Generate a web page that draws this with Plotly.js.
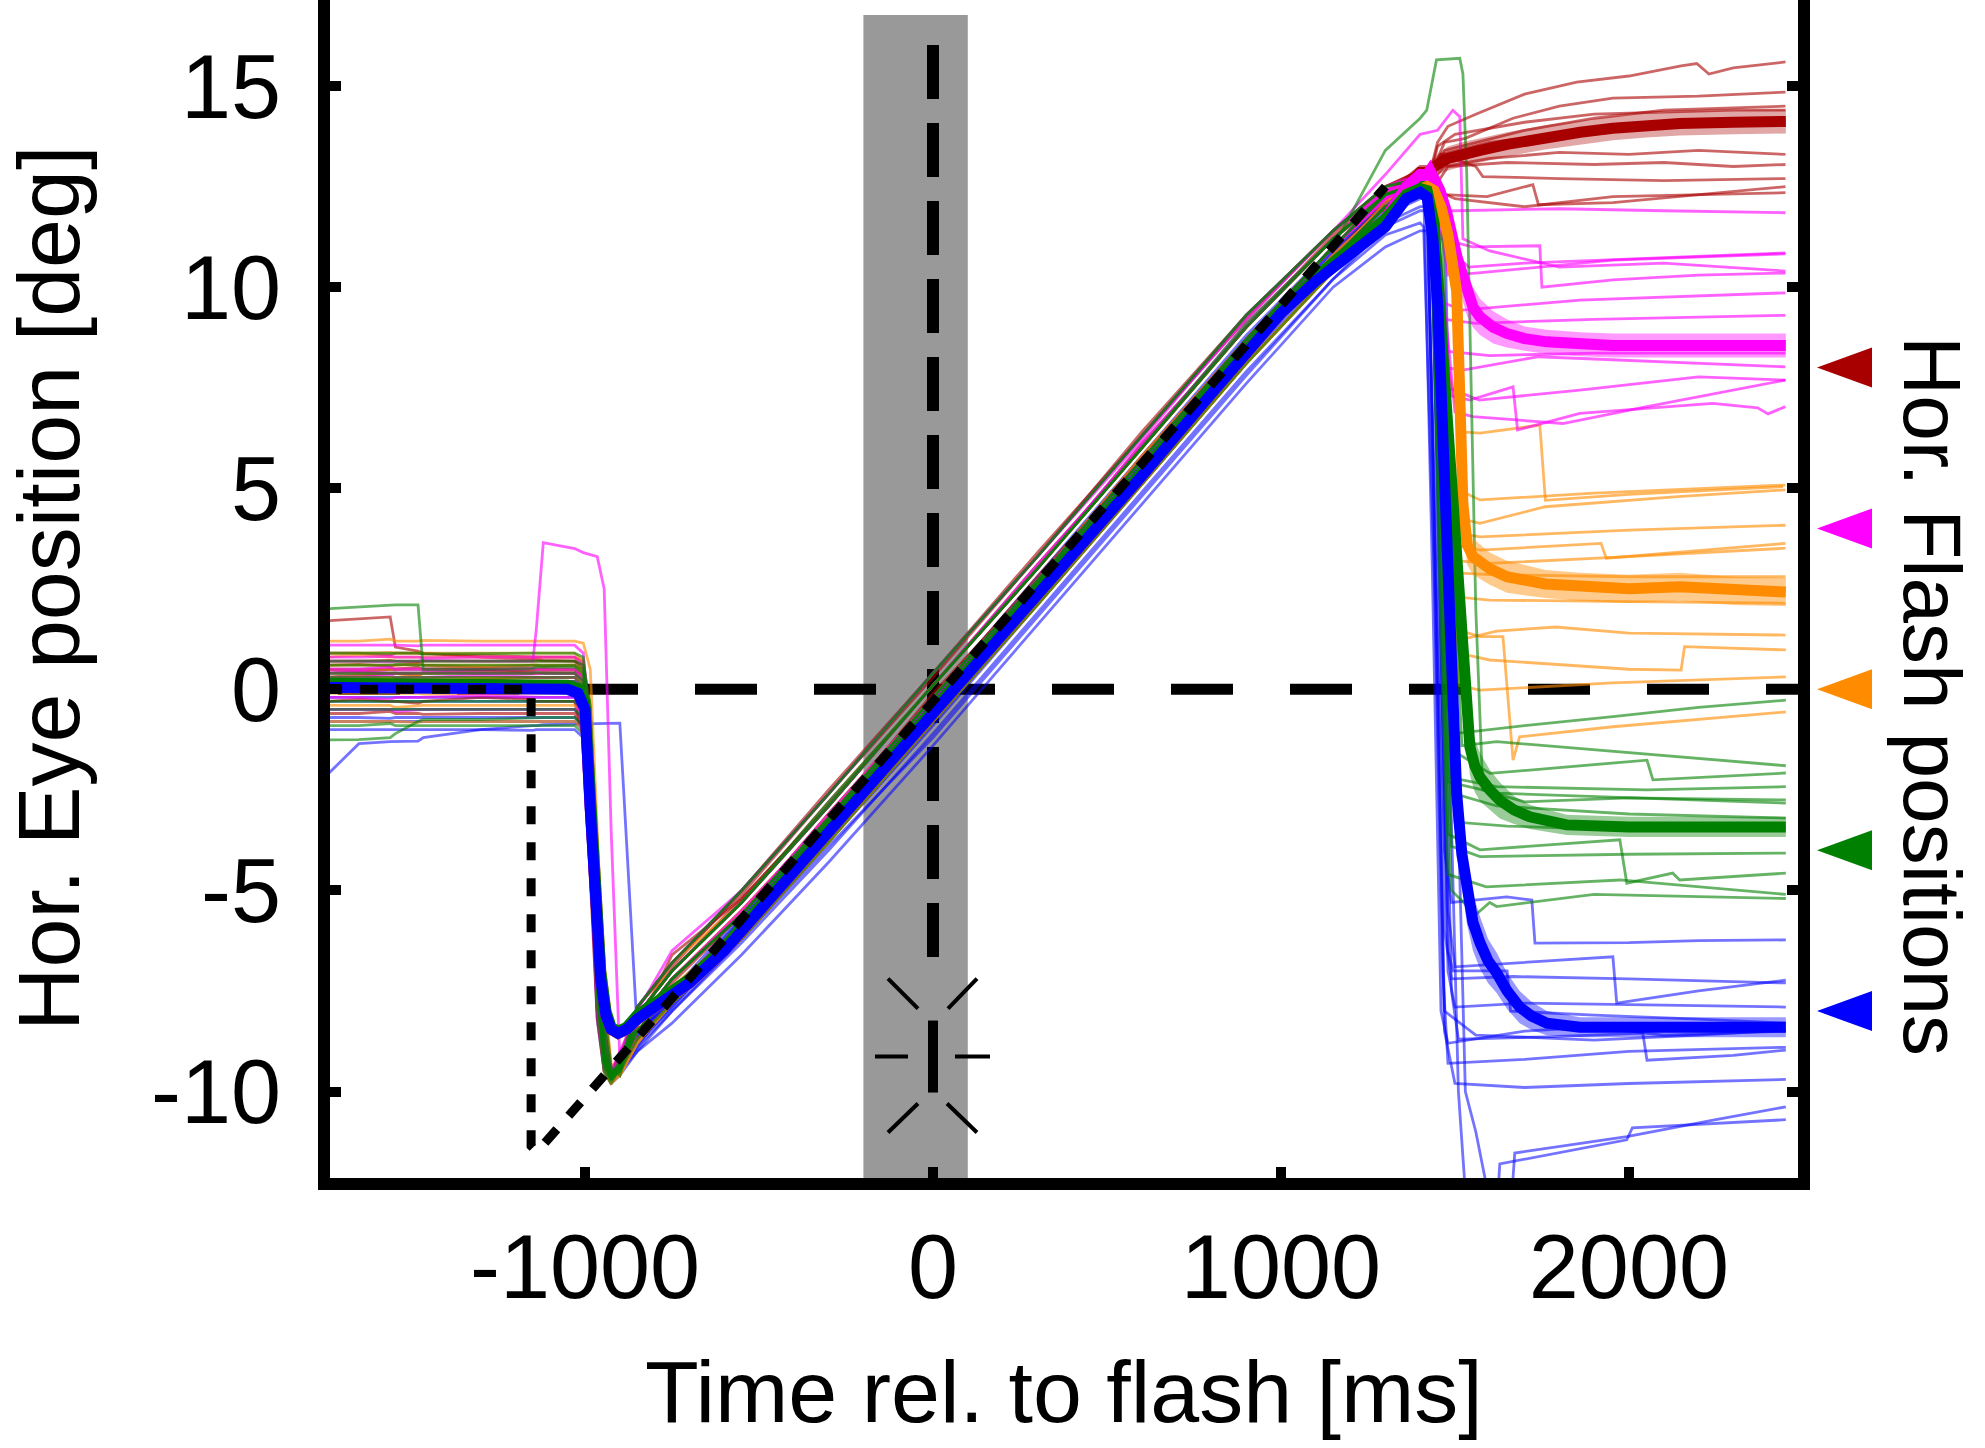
<!DOCTYPE html>
<html>
<head>
<meta charset="utf-8">
<script src="https://cdn.plot.ly/plotly-3.0.1.min.js"></script>
<style>html,body{margin:0;padding:0;background:#fff;}#chart{width:1985px;height:1448px;}</style>
</head>
<body>
<div id="chart"></div>
<script>
// ---------------- DATA ----------------
const xTickVals = [-1000, 0, 1000, 2000];
const xTickText = ['-1000', '0', '1000', '2000'];
const yTickVals = [-10, -5, 0, 5, 10, 15];
const yTickText = ['-10', '-5', '0', '5', '10', '15'];

const flashPositions = [8, 4, 0, -4, -8];
const flashColors = ['#a80000', '#ff00ff', '#ff8c00', '#008000', '#0000ff'];
const flashWindow = [-200, 100];     // grey flash window (ms)
const flashWindowTop = 16.77;
const flashIconAt = [0, -9.13];       // time, position of the flash icon
const fixLineTop = 16.02, fixLineBottom = -6.73;

// target trajectory (step-ramp)
const targetT = [-1750, -1155, -1155, -1138, 1300];
const targetY = [0, 0, -11.35, -11.5, 12.5];

// shared time vertices for the pre-saccadic part of single trials
const PRE_T = [-1750, -1650, -1560, -1545, -1480, -1465, -1300, -1150, -1140, -1120, -1030,
               -1005, -985, -965, -945, -925, -900, -850, -750, -550, -300, 0, 300, 600, 900, 1150, 1300, 1400];

// ---- single trials: red (flash at +8) ----
const redPre = [
 [0.6,0.62,0.58,0.6,0.63,0.6,0.55,0.6,0.6,0.58,0.6, 0.4,-2.5,-6.6,-9.0,-9.5,-9.1, -7.9,-6.9,-5.0,-2.5,0.4,3.4,6.3,9.2,11.4,12.5,12.9],
 [1.7,1.75,1.8,1.05,0.95,0.9,0.8,0.75,0.75,0.72,0.7, 0.5,-1.5,-5.5,-8.6,-9.5,-9.3, -8.3,-7.2,-5.5,-3.2,-0.1,2.7,5.8,8.7,11.0,12.3,13.0],
 [-0.3,-0.25,-0.3,-0.3,-0.35,-0.3,-0.2,-0.25,-0.3,-0.3,-0.3, -1.2,-4.8,-8.2,-9.5,-9.6,-9.2, -8.5,-7.5,-5.9,-3.4,-0.5,2.5,5.4,8.4,10.8,12.1,12.8],
 [0.3,0.35,0.4,0.4,0.35,0.4,0.45,0.4,0.4,0.42,0.4, 0.2,-3.0,-7.0,-9.2,-9.7,-9.3, -8.1,-7.0,-5.2,-2.9,0.1,3.0,6.1,9.0,11.2,12.3,12.7],
 [0.9,0.9,0.85,0.9,0.9,0.88,0.85,0.82,0.8,0.8,0.8, 0.7,-0.5,-4.2,-7.8,-9.4,-9.6, -8.3,-7.3,-5.6,-3.1,-0.2,2.8,5.7,8.7,11.0,12.2,12.7],
 [0.1,0.1,0.15,0.1,0.05,0.1,0.1,0.15,0.1,0.1,0.1, -0.3,-3.8,-7.6,-9.3,-9.5,-9.1, -8.5,-7.5,-5.9,-3.5,-0.4,2.4,5.4,8.5,10.7,12.0,12.6],
 [0.5,0.45,0.5,0.5,0.55,0.5,0.5,0.45,0.5,0.5,0.48, 0.3,-2.2,-6.2,-8.9,-9.6,-9.4, -8.4,-6.6,-5.2,-2.9,0.1,3.0,6.0,9.0,11.2,12.2,12.5],
 [-0.6,-0.6,-0.55,-0.6,-0.6,-0.62,-0.6,-0.6,-0.6,-0.6,-0.6, -1.0,-4.0,-7.9,-9.4,-9.6,-9.2, -8.7,-7.8,-6.2,-3.8,-0.8,2.1,5.1,8.1,10.4,11.8,12.5],
 [0.2,0.25,0.2,0.2,0.2,0.2,0.25,0.3,0.3,0.3,0.3, 0.1,-2.8,-6.8,-9.1,-9.5,-9.2, -7.9,-6.8,-5.1,-2.6,0.3,3.3,6.4,9.3,11.4,12.5,12.9],
 [0.7,0.7,0.72,0.7,0.68,0.7,0.7,0.7,0.7,0.7,0.7, 0.6,-1.0,-5.0,-8.4,-9.5,-9.4, -8.1,-7.0,-5.3,-2.8,0.1,3.1,6.0,9.0,11.3,12.4,12.8]
];
const redPost = [
 [[1430,12.9],[1450,13.6],[1480,14.0],[1560,14.3],[1700,14.8],[1850,15.1],[2000,15.25],[2150,15.5],[2195,15.56],[2230,15.3],[2300,15.45],[2450,15.6]],
 [[1440,13.0],[1470,13.6],[1530,13.7],[1667,14.2],[1800,14.5],[1954,14.7],[2200,14.75],[2450,14.85]],
 [[1430,12.8],[1450,13.5],[1500,13.8],[1700,14.1],[1900,14.3],[2100,14.35],[2300,14.4],[2450,14.4]],
 [[1430,12.7],[1460,13.3],[1600,13.6],[1800,13.8],[2000,14.0],[2200,14.1],[2450,14.15]],
 [[1440,12.7],[1470,13.0],[1600,13.2],[1800,13.35],[2000,13.3],[2200,13.4],[2450,13.3]],
 [[1450,12.6],[1480,13.0],[1650,13.1],[1900,13.05],[2100,13.1],[2300,13.0],[2450,13.05]],
 [[1430,12.5],[1470,12.3],[1592,12.25],[1724,12.55],[1740,12.05],[1954,12.1],[2200,12.3],[2450,12.5]],
 [[1450,12.4],[1500,12.2],[1700,12.0],[1954,12.25],[2200,12.3],[2450,12.35]],
 [[1430,12.9],[1460,13.3],[1560,13.0],[1580,12.75],[1800,12.7],[2100,12.65],[2450,12.7]],
 [[1440,12.8],[1470,13.4],[1700,13.9],[1900,14.2],[2100,14.4],[2450,14.5]]
];

// ---- single trials: magenta (flash at +4) ----
const magPre = [
 [0.7,0.7,0.68,0.7,0.7,0.72,0.7,0.7,1.5,3.65,3.5, 3.4,3.35,3.3,2.5,-3.5,-9.2, -8.1,-7.0,-5.3,-2.9,0.1,3.0,6.0,9.1,11.2,12.4,12.8],
 [0.3,0.3,0.35,0.3,0.3,0.3,0.35,0.3,0.3,0.3,0.3, 0.0,-3.2,-7.2,-9.3,-9.6,-9.2, -7.9,-6.8,-5.0,-2.6,0.4,3.3,6.3,9.3,11.4,12.8,13.8],
 [0.0,0.05,0.0,0.0,-0.05,0.0,0.0,0.05,0.05,0.0,0.0, -0.5,-3.5,-7.5,-9.4,-9.7,-9.3, -8.0,-6.5,-5.0,-2.6,0.4,3.3,6.2,9.3,11.4,12.5,12.8],
 [0.4,0.45,0.4,0.4,0.4,0.42,0.4,0.4,0.4,0.4,0.4, 0.2,-2.0,-6.0,-8.8,-9.5,-9.4, -8.3,-7.2,-5.6,-3.2,-0.2,2.7,5.7,8.6,11.0,12.2,12.7],
 [-0.2,-0.2,-0.25,-0.2,-0.2,-0.2,-0.15,-0.2,-0.2,-0.2,-0.2, -0.8,-4.2,-8.0,-9.4,-9.5,-9.0, -8.1,-7.0,-5.3,-2.9,0.1,3.1,6.0,9.0,11.2,12.4,12.7],
 [0.8,0.8,0.82,0.8,0.8,0.78,0.8,0.8,0.8,0.8,0.8, 0.6,-1.8,-5.8,-8.7,-9.5,-9.3, -8.3,-7.2,-5.5,-3.2,-0.2,2.7,5.7,8.7,11.0,12.3,12.7],
 [0.1,0.1,0.1,0.1,0.12,0.1,0.1,0.1,0.1,0.1,0.1, -0.2,-2.6,-6.6,-9.0,-9.6,-9.3, -7.9,-6.8,-5.0,-2.6,0.4,3.3,6.3,9.2,11.4,12.4,12.6],
 [-0.5,-0.5,-0.5,-0.55,-0.5,-0.5,-0.5,-0.5,-0.5,-0.5,-0.5, -0.5,-1.5,-5.2,-8.5,-9.6,-9.5, -8.5,-7.5,-5.9,-3.5,-0.5,2.4,5.4,8.4,10.7,12.0,12.5],
 [0.5,0.5,0.55,0.5,0.5,0.5,0.5,0.52,0.5,0.5,0.5, 0.3,-2.8,-6.9,-9.2,-9.6,-9.2, -8.3,-7.2,-5.6,-3.1,-0.2,2.7,5.7,8.7,11.0,12.2,12.6],
 [0.2,0.2,0.2,0.25,0.2,0.2,0.2,0.2,0.2,0.2,0.2, -0.1,-3.0,-7.0,-9.2,-9.6,-9.2, -8.1,-7.0,-5.3,-2.9,0.1,3.0,6.1,9.0,11.2,12.3,12.6],
 [1.1,1.1,1.1,1.1,1.08,1.1,1.1,1.1,1.1,1.1,1.1, 0.9,-1.2,-5.2,-8.5,-9.5,-9.4, -8.5,-7.5,-5.8,-3.5,-0.5,2.4,5.4,8.4,10.7,12.0,12.5],
 [0.0,0.0,0.0,0.0,0.0,0.0,0.0,0.0,0.0,0.0,0.0, -0.4,-3.4,-7.4,-9.4,-9.6,-9.2, -8.3,-7.2,-5.6,-3.2,-0.3,2.7,5.7,8.7,11.0,12.2,12.6]
];
const magPost = [
 [[1440,12.8],[1470,12.0],[1500,10.8],[1540,10.5],[1700,10.6],[2000,10.7],[2300,10.8],[2450,10.85]],
 [[1450,13.9],[1494,14.4],[1514,14.24],[1523,11.2],[1600,10.9],[1800,10.5],[2100,10.6],[2450,10.4]],
 [[1430,12.6],[1460,11.9],[1500,11.9],[1800,11.95],[2100,11.9],[2450,11.85]],
 [[1430,12.6],[1460,11.2],[1550,11.0],[1744,11.03],[1750,10.0],[1954,10.18],[2200,10.3],[2450,10.35]],
 [[1440,12.5],[1480,10.3],[1560,10.35],[1954,10.67],[2450,10.83]],
 [[1430,12.5],[1470,9.6],[1523,9.43],[1859,9.68],[2241,9.8],[2450,9.86]],
 [[1430,12.4],[1470,9.2],[1560,9.1],[1900,9.2],[2450,9.3]],
 [[1440,12.3],[1480,8.4],[1600,8.3],[1900,8.36],[2450,8.36]],
 [[1430,12.3],[1470,8.0],[1523,7.94],[1740,8.27],[2450,8.02]],
 [[1440,12.4],[1490,7.3],[1543,7.19],[1667,7.52],[1680,6.45],[1859,6.86],[2241,7.11],[2370,7.0],[2400,6.85],[2450,7.03]],
 [[1440,12.3],[1500,6.9],[1552,6.78],[1810,6.61],[2052,7.03],[2450,7.69]],
 [[1440,12.4],[1480,7.5],[1570,7.19],[1859,7.44],[2200,7.77],[2450,7.69]]
];

// ---- single trials: orange (flash at 0) ----
const orgPre = [
 [1.2,1.2,1.25,1.2,1.2,1.22,1.2,1.2,1.2,1.2,1.2, 1.15,0.5,-3.5,-7.5,-9.3,-9.6, -8.5,-7.4,-5.9,-3.5,-0.5,2.5,5.4,8.4,10.7,12.1,12.6],
 [0.8,0.85,0.8,0.8,0.8,0.8,0.8,0.8,0.8,0.8,0.8, 0.6,-2.0,-6.0,-8.9,-9.6,-9.4, -8.3,-7.2,-5.5,-3.2,-0.2,2.7,5.8,8.7,11.0,12.2,12.5],
 [0.3,0.3,0.3,0.3,0.35,0.3,0.3,0.3,0.3,0.3,0.3, 0.1,-2.5,-6.5,-9.0,-9.7,-9.5, -8.7,-7.8,-6.2,-3.8,-0.8,2.1,5.1,8.1,10.4,11.8,12.5],
 [-0.4,-0.4,-0.4,-0.45,-0.4,-0.4,-0.4,-0.4,-0.4,-0.4,-0.4, -0.6,-3.2,-7.2,-9.3,-9.7,-9.4, -8.5,-7.5,-5.9,-3.5,-0.4,2.4,5.4,8.5,10.8,12.0,12.4],
 [0.5,0.5,0.5,0.5,0.5,0.5,0.55,0.5,0.5,0.5,0.5, 0.4,-1.5,-5.6,-8.6,-9.6,-9.6, -8.8,-7.8,-6.1,-3.8,-0.8,2.2,5.1,8.1,10.4,11.8,12.4],
 [0.0,0.0,-0.05,0.0,0.0,0.0,0.0,0.0,0.0,0.0,0.0, -0.3,-3.6,-7.6,-9.4,-9.8,-9.5, -8.3,-7.2,-5.6,-3.1,-0.2,2.7,5.7,8.7,11.0,12.2,12.5],
 [0.6,0.6,0.6,0.6,0.62,0.6,0.6,0.6,0.6,0.6,0.6, 0.5,-2.2,-6.2,-8.9,-9.6,-9.5, -8.2,-6.8,-5.3,-2.9,0.1,3.0,6.0,9.0,11.2,12.3,12.6],
 [-0.1,-0.1,-0.1,-0.1,-0.1,-0.12,-0.1,-0.1,-0.1,-0.1,-0.1, -0.5,-3.8,-7.8,-9.5,-9.8,-9.4, -8.5,-7.5,-5.9,-3.5,-0.5,2.4,5.4,8.4,10.7,12.0,12.4],
 [0.3,0.3,0.3,0.3,0.3,0.3,0.3,0.3,0.3,0.3,0.3, 0.2,-1.8,-5.8,-8.8,-9.6,-9.5, -8.3,-7.2,-5.6,-3.2,-0.2,2.7,5.7,8.7,11.0,12.2,12.5],
 [0.9,0.9,0.92,0.9,0.9,0.9,0.9,0.9,0.9,0.9,0.9, 0.7,-1.3,-5.3,-8.6,-9.5,-9.4, -8.1,-7.0,-5.3,-2.9,0.1,3.0,6.0,9.0,11.2,12.4,12.6],
 [-0.8,-0.8,-0.8,-0.8,-0.82,-0.8,-0.8,-0.8,-0.8,-0.8,-0.8, -1.0,-3.0,-7.0,-9.3,-9.8,-9.6, -8.8,-7.8,-6.2,-3.8,-0.8,2.1,5.1,8.1,10.4,11.8,12.4],
 [0.4,0.4,0.4,0.4,0.4,0.4,0.4,0.4,0.4,0.4,0.4, 0.3,-2.6,-6.6,-9.0,-9.6,-9.4, -8.3,-7.2,-5.6,-3.2,-0.2,2.7,5.7,8.7,11.0,12.2,12.5]
];
const orgPost = [
 [[1440,12.6],[1480,8.0],[1520,6.4],[1572,6.37],[1744,6.57],[1760,4.7],[2000,4.85],[2443,5.04]],
 [[1440,12.5],[1500,5.0],[1572,4.71],[1900,4.88],[2450,5.08]],
 [[1430,12.5],[1490,4.3],[1572,4.13],[1760,4.54],[2140,4.79],[2450,4.96]],
 [[1440,12.4],[1500,3.9],[1572,3.79],[2000,3.96],[2450,4.08]],
 [[1430,12.4],[1490,3.6],[1572,3.46],[1920,3.63],[1935,3.26],[2450,3.63]],
 [[1440,12.4],[1500,3.2],[1600,3.13],[2000,3.3],[2450,3.51]],
 [[1430,12.5],[1490,2.9],[1600,2.85],[2000,2.8],[2450,2.8]],
 [[1440,12.4],[1500,2.3],[1600,2.22],[2000,2.18],[2450,2.14]],
 [[1440,12.4],[1500,1.5],[1572,1.31],[1638,1.31],[1667,-1.76],[1686,-1.18],[1954,-0.93],[2451,-0.56]],
 [[1440,12.4],[1500,1.2],[1620,1.45],[1790,1.55],[2000,1.4],[2450,1.35]],
 [[1440,12.3],[1510,0.9],[1600,0.73],[2000,0.5],[2150,0.48],[2160,1.06],[2451,0.98]],
 [[1440,12.3],[1510,0.1],[1572,-0.02],[1954,0.16],[2451,0.31]]
];

// ---- single trials: green (flash at -4) ----
const grnPre = [
 [2.0,2.05,2.1,2.1,2.1,0.5,0.5,0.52,0.55,0.55,0.55, 0.4,-2.0,-6.0,-8.9,-9.6,-9.3, -8.1,-7.0,-5.3,-2.9,0.1,3.0,6.0,9.0,11.2,12.3,12.6],
 [0.3,0.3,0.3,0.3,0.3,0.3,0.3,0.3,0.3,0.3,0.3, 0.1,-2.9,-6.9,-9.1,-9.6,-9.2, -8.3,-7.2,-5.6,-3.2,-0.2,2.7,5.7,8.7,11.0,13.4,14.2],
 [-1.26,-1.25,-1.2,-1.1,-0.8,-0.75,-0.75,-0.7,-0.7,-0.7,-0.7, -0.9,-3.5,-7.5,-9.3,-9.7,-9.4, -8.5,-7.5,-5.9,-3.5,-0.5,2.4,5.4,8.4,10.7,12.0,12.5],
 [0.6,0.6,0.6,0.62,0.6,0.6,0.6,0.6,0.6,0.6,0.6, 0.5,-1.6,-5.6,-8.7,-9.6,-9.5, -8.1,-7.0,-5.3,-2.8,0.1,3.0,6.0,9.1,11.2,12.3,12.6],
 [0.1,0.1,0.1,0.1,0.1,0.1,0.1,0.12,0.1,0.1,0.1, -0.1,-3.1,-7.1,-9.2,-9.7,-9.3, -8.3,-7.2,-5.6,-3.2,-0.2,2.7,5.7,8.7,11.0,12.3,12.6],
 [-0.9,-0.9,-0.85,-0.9,-0.9,-0.9,-0.9,-0.9,-0.9,-0.9,-0.9, -1.1,-3.3,-7.3,-9.3,-9.7,-9.5, -8.7,-7.8,-6.2,-3.8,-0.8,2.1,5.1,8.1,10.4,11.8,12.4],
 [0.9,0.9,0.9,0.9,0.9,0.88,0.9,0.9,0.9,0.9,0.9, 0.8,-1.0,-5.0,-8.4,-9.5,-9.4, -7.9,-6.8,-5.0,-2.6,0.4,3.3,6.3,9.3,11.4,12.5,12.7],
 [0.4,0.4,0.4,0.4,0.4,0.4,0.4,0.4,0.42,0.4,0.4, 0.2,-2.4,-6.4,-9.0,-9.6,-9.4, -8.1,-7.0,-5.3,-2.9,0.1,3.0,6.0,9.0,11.2,12.3,12.6],
 [-0.3,-0.3,-0.3,-0.3,-0.3,-0.3,-0.3,-0.3,-0.3,-0.3,-0.3, -0.5,-3.6,-7.6,-9.4,-9.7,-9.3, -8.5,-7.5,-5.9,-3.5,-0.5,2.4,5.4,8.4,10.7,12.0,12.5],
 [0.7,0.7,0.7,0.7,0.7,0.7,0.7,0.7,0.7,0.7,0.7, 0.6,-0.4,-4.4,-8.0,-9.4,-9.6, -8.3,-7.2,-5.6,-3.2,-0.2,2.7,5.7,8.7,11.0,12.3,12.6],
 [0.2,0.2,0.2,0.2,0.2,0.2,0.2,0.2,0.2,0.2,0.2, 0.0,-2.7,-6.7,-9.1,-9.6,-9.3, -7.9,-6.8,-5.0,-2.6,0.4,3.3,6.3,9.3,11.4,12.5,12.7],
 [-0.5,-0.5,-0.5,-0.5,-0.5,-0.5,-0.5,-0.5,-0.5,-0.5,-0.5, -0.7,-3.9,-7.9,-9.5,-9.8,-9.4, -8.5,-7.5,-5.9,-3.5,-0.5,2.4,5.4,8.4,10.7,12.0,12.5]
];
const grnPost = [
 [[1430,12.6],[1455,6],[1480,-0.5],[1500,-1.1],[1700,-0.9],[1954,-0.68],[2200,-0.45],[2451,-0.27]],
 [[1419,14.4],[1447,15.65],[1514,15.69],[1523,15.3],[1534,12.8],[1560,2],[1580,-2.5],[1700,-2.8],[2000,-2.7],[2451,-2.75]],
 [[1440,12.5],[1465,5],[1490,-1.5],[1601,-2.09],[2052,-1.76],[2069,-2.25],[2451,-2.08]],
 [[1440,12.6],[1465,5],[1490,-2.2],[1620,-2.42],[2052,-2.5],[2451,-2.42]],
 [[1430,12.6],[1455,5],[1480,-2.3],[1620,-2.58],[2000,-2.7],[2451,-2.83]],
 [[1450,12.4],[1475,5],[1500,-2.6],[1620,-2.9],[2000,-3.1],[2451,-3.2]],
 [[1430,12.7],[1455,4],[1480,-3.6],[1572,-3.99],[1974,-3.74],[1994,-4.82],[2126,-4.57],[2146,-4.74],[2451,-4.57]],
 [[1440,12.6],[1465,4],[1490,-3.9],[1572,-4.16],[2000,-4.1],[2451,-4.07]],
 [[1430,12.5],[1455,3],[1480,-4.6],[1590,-4.91],[1974,-4.74],[2451,-5.1]],
 [[1440,12.6],[1465,3],[1490,-5.0],[1560,-5.6],[1600,-5.3],[1620,-5.4],[1900,-5.1],[2451,-5.2]],
 [[1450,12.7],[1475,3],[1500,-3.3],[1650,-3.4],[2000,-3.5],[2451,-3.45]],
 [[1460,12.5],[1490,4],[1520,-1.4],[1620,-1.3],[1900,-1.5],[2451,-1.9]]
];

// ---- single trials: blue (flash at -8) ----
const bluPre = [
 [-2.2,-1.35,-1.3,-1.3,-1.29,-1.2,-1.0,-0.9,-0.9,-0.88,-0.86, -0.85,-0.85,-0.84,-0.84,-0.84,-0.84,-8.5,-7.8,-6.2,-3.9,-1.2,1.8,4.8,7.8,10.2,11.3,11.6],
 [-0.7,-0.7,-0.72,-0.7,-0.7,-0.7,-0.7,-0.7,-0.7,-0.7,-0.7, -0.9,-4.0,-8.0,-9.4,-9.8,-9.5,-9.0,-8.3,-6.6,-4.3,-1.4,1.6,4.6,7.6,10.0,11.0,11.4],
 [-1.0,-1.0,-1.0,-1.0,-1.0,-1.0,-1.0,-1.02,-1.0,-1.0,-1.0, -1.2,-3.6,-7.6,-9.4,-9.8,-9.6,-9.0,-8.0,-6.2,-3.8,-0.9,2.1,5.1,8.1,10.4,11.6,12.0],
 [0.2,0.2,0.2,0.2,0.2,0.2,0.2,0.2,0.2,0.2,0.2, 0.0,-3.0,-7.0,-9.2,-9.7,-9.3,-8.6,-7.6,-5.7,-3.2,-0.3,2.7,5.7,8.7,11.0,12.2,12.5],
 [-0.2,-0.2,-0.2,-0.2,-0.2,-0.2,-0.2,-0.2,-0.2,-0.2,-0.2, -0.5,-3.4,-7.4,-9.3,-9.7,-9.4,-8.7,-7.8,-5.9,-3.4,-0.5,2.5,5.5,8.5,10.8,12.0,12.3],
 [0.5,0.5,0.5,0.5,0.5,0.5,0.5,0.5,0.5,0.5,0.5, 0.3,-2.4,-6.4,-9.0,-9.6,-9.4,-8.8,-7.9,-6.1,-3.7,-0.8,2.2,5.2,8.2,10.5,11.8,12.2],
 [-0.5,-0.5,-0.5,-0.5,-0.5,-0.5,-0.5,-0.5,-0.5,-0.5,-0.5, -0.8,-3.8,-7.8,-9.4,-9.8,-9.5,-8.9,-7.7,-5.8,-3.3,-0.4,2.6,5.6,8.6,10.9,12.1,12.4],
 [0.0,0.0,0.0,0.0,0.0,0.0,0.0,0.0,0.0,0.0,0.0, -0.2,-2.8,-6.8,-9.1,-9.6,-9.3,-8.7,-7.7,-5.8,-3.3,-0.4,2.6,5.6,8.6,10.9,12.1,12.4],
 [-0.8,-0.8,-0.8,-0.8,-0.8,-0.8,-0.8,-0.8,-0.8,-0.8,-0.8, -1.0,-4.3,-8.2,-9.5,-9.8,-9.4,-8.9,-8.0,-6.3,-4.0,-1.1,1.9,4.9,7.9,10.2,11.5,11.9],
 [0.4,0.4,0.4,0.4,0.4,0.4,0.4,0.4,0.4,0.4,0.4, 0.2,-2.6,-6.6,-9.0,-9.6,-9.4,-8.6,-7.5,-5.6,-3.1,-0.2,2.8,5.8,8.8,11.0,12.3,12.6],
 [-0.3,-0.3,-0.3,-0.3,-0.3,-0.3,-0.3,-0.3,-0.3,-0.3,-0.3, -0.6,-3.3,-7.3,-9.3,-9.7,-9.4,-8.8,-7.9,-6.0,-3.6,-0.7,2.3,5.3,8.3,10.6,11.9,12.3],
 [0.1,0.1,0.1,0.1,0.1,0.1,0.1,0.1,0.1,0.1,0.1, -0.1,-3.1,-7.1,-9.2,-9.7,-9.4,-8.7,-7.6,-5.7,-3.2,-0.3,2.7,5.7,8.7,11.0,12.2,12.5]
];
const bluPost = [
 [[1410,11.5],[1440,3],[1465,-7],[1480,-9.3],[1700,-9.2],[2000,-9.0],[2451,-8.9]],
 [[1420,11.4],[1445,4],[1470,-4],[1490,-5.3],[1649,-5.16],[1721,-5.24],[1730,-6.31],[2000,-6.3],[2200,-6.25],[2451,-6.23]],
 [[1430,12.0],[1455,4],[1480,-5.5],[1500,-6.9],[1667,-6.81],[1954,-6.65],[1965,-7.8],[2200,-7.5],[2451,-7.23]],
 [[1420,12.5],[1445,3],[1470,-6],[1490,-7.2],[1667,-7.14],[2000,-7.2],[2451,-7.3]],
 [[1430,12.3],[1455,3],[1480,-7],[1500,-7.9],[1700,-7.8],[2100,-7.85],[2451,-7.9]],
 [[1440,12.2],[1465,3],[1490,-7.5],[1510,-8.7],[1764,-8.64],[2040,-8.55],[2052,-9.22],[2300,-9.1],[2451,-8.97]],
 [[1420,12.4],[1445,2],[1470,-8],[1560,-8.6],[1900,-8.72],[2200,-8.6],[2451,-8.47]],
 [[1450,12.4],[1480,0],[1510,-10],[1534,-13],[1660,-13],[1672,-11.53],[1994,-11.12],[2250,-10.7],[2451,-10.38]],
 [[1470,11.9],[1500,0],[1530,-10],[1560,-11],[1606,-13],[1620,-13],[1629,-11.8],[1994,-11.2],[2010,-10.9],[2451,-10.7]],
 [[1420,12.6],[1445,2],[1470,-8.5],[1500,-9.8],[1700,-9.9],[2000,-9.8],[2200,-9.75],[2451,-9.7]],
 [[1430,12.3],[1455,3],[1480,-6.5],[1495,-7.0],[1650,-7.0],[1660,-8.0],[1900,-8.1],[2200,-8.2],[2451,-8.3]],
 [[1410,12.5],[1435,3],[1460,-8],[1480,-8.8],[1700,-8.5],[1900,-8.4],[2100,-8.6],[2451,-8.5]]
];

// ---- condition means ----
const MEAN_PRE_T = [-1750, -1500, -1250, -1050, -1020, -1000, -985, -970, -955, -940, -925, -905, -880, -850, -800,
                    -700, -600, -400, -200, 0, 200, 400, 600, 800, 1000, 1100, 1200, 1300, 1360, 1400];
const redMeanPre = [0.08,0.07,0.05,0.03,-0.05,-0.45,-2.95,-5.25,-7.15,-8.1,-8.45,-8.55,-8.45,-8.2,-7.9,-7.3,-6.5,-4.55,-2.6,-0.65,1.3,3.3,5.3,7.35,9.35,10.2,10.95,11.7,12.5,12.85];
const magMeanPre = [0.07,0.07,0.05,0.03,-0.05,-0.45,-2.9,-5.2,-7.1,-8.1,-8.45,-8.55,-8.45,-8.2,-7.9,-7.3,-6.5,-4.55,-2.6,-0.65,1.3,3.3,5.3,7.35,9.35,10.2,10.95,11.7,12.5,12.8];
const orgMeanPre = [0.1,0.1,0.08,0.05,0.0,-0.3,-2.6,-5.0,-7.0,-8.0,-8.45,-8.55,-8.45,-8.2,-7.9,-7.3,-6.5,-4.55,-2.6,-0.65,1.3,3.3,5.3,7.35,9.35,10.15,10.9,11.6,12.3,12.45];
const grnMeanPre = [0.15,0.15,0.12,0.1,0.02,-0.3,-2.6,-5.0,-7.0,-8.0,-8.4,-8.5,-8.4,-8.1,-7.8,-7.2,-6.4,-4.45,-2.5,-0.55,1.4,3.4,5.4,7.45,9.4,10.25,11.0,11.7,12.3,12.45];
const bluMeanPre = [0.05,0.05,0.02,0.0,-0.1,-0.5,-3.0,-5.3,-7.2,-8.1,-8.45,-8.55,-8.45,-8.2,-7.9,-7.3,-6.5,-4.55,-2.6,-0.65,1.3,3.3,5.3,7.35,9.35,10.15,10.85,11.5,12.2,12.36];

const redMeanPost = [[1420,12.85],[1428,12.93],[1450,13.05],[1480,13.2],[1520,13.3],[1572,13.4],[1650,13.55],[1764,13.73],[1860,13.85],[1954,13.95],[2050,14.02],[2146,14.07],[2300,14.1],[2451,14.12]];
const magMeanPost = [[1420,12.8],[1428,12.9],[1457,12.4],[1477,11.84],[1506,10.74],[1534,9.85],[1552,9.5],[1572,9.26],[1610,9.0],[1649,8.85],[1700,8.72],[1764,8.64],[1860,8.58],[1954,8.55],[2200,8.55],[2451,8.55]];
const orgMeanPost = [[1420,12.5],[1440,12.4],[1460,12.0],[1480,11.3],[1495,10.6],[1505,9.9],[1515,7.0],[1523,4.6],[1535,3.6],[1552,3.3],[1600,3.0],[1649,2.8],[1760,2.62],[1859,2.55],[2000,2.5],[2146,2.55],[2300,2.45],[2451,2.42]];
const grnMeanPost = [[1420,12.4],[1440,11.6],[1460,9.0],[1480,6.3],[1500,3.8],[1520,1.0],[1543,-1.43],[1557,-1.9],[1572,-2.18],[1600,-2.5],[1629,-2.76],[1670,-3.0],[1715,-3.17],[1821,-3.37],[2000,-3.42],[2250,-3.42],[2451,-3.42]];
const bluMeanPost = [[1420,12.24],[1437,11.17],[1451,9.5],[1465,6.2],[1477,3.2],[1490,0.7],[1505,-2.58],[1520,-4.1],[1534,-5.06],[1552,-5.8],[1572,-6.3],[1595,-6.75],[1620,-7.05],[1650,-7.5],[1686,-7.9],[1720,-8.12],[1764,-8.3],[1859,-8.4],[2052,-8.4],[2250,-8.4],[2451,-8.4]];

// standard-error half widths of the post-saccadic means (deg), one per post vertex
const redSem = [0.15,0.2,0.25,0.3,0.3,0.3,0.3,0.3,0.3,0.3,0.3,0.3,0.3,0.3];
const magSem = [0.15,0.2,0.35,0.45,0.55,0.55,0.5,0.45,0.4,0.35,0.3,0.3,0.3,0.3,0.3,0.3];
const orgSem = [0.15,0.2,0.3,0.4,0.5,0.6,0.7,0.6,0.5,0.45,0.4,0.4,0.35,0.35,0.35,0.35,0.35,0.35];
const grnSem = [0.15,0.4,0.7,0.8,0.8,0.8,0.7,0.65,0.6,0.5,0.45,0.35,0.3,0.25,0.25,0.25,0.25];
const bluSem = [0.15,0.5,0.8,0.9,0.9,0.9,0.9,0.8,0.75,0.7,0.65,0.55,0.5,0.45,0.4,0.35,0.3,0.25,0.25,0.25,0.25];

// ---------------- BUILD ----------------
const thinColors = {
  red: 'rgba(170,0,0,0.6)', mag: 'rgba(255,0,255,0.62)', org: 'rgba(255,140,0,0.62)',
  grn: 'rgba(0,128,0,0.6)', blu: 'rgba(0,0,255,0.55)'
};
const bandColors = {
  red: 'rgba(170,0,0,0.35)', mag: 'rgba(255,0,255,0.4)', org: 'rgba(255,140,0,0.45)',
  grn: 'rgba(0,128,0,0.4)', blu: 'rgba(0,0,255,0.4)'
};
const traces = [];
function addThin(preArr, postArr, color) {
  preArr.forEach((pre, i) => {
    const x = PRE_T.slice(), y = pre.slice();
    postArr[i].forEach(p => { x.push(p[0]); y.push(p[1]); });
    traces.push({x: x, y: y, type: 'scatter', mode: 'lines', line: {color: color, width: 2.8},
                 hoverinfo: 'skip', showlegend: false});
  });
}
addThin(bluPre, bluPost, thinColors.blu);
addThin(redPre, redPost, thinColors.red);
addThin(orgPre, orgPost, thinColors.org);
addThin(magPre, magPost, thinColors.mag);
addThin(grnPre, grnPost, thinColors.grn);

function addBand(post, sem, color) {
  const x = post.map(p => p[0]);
  traces.push({x: x, y: post.map((p, i) => p[1] + sem[i]), type: 'scatter', mode: 'lines',
               line: {width: 0, color: color}, hoverinfo: 'skip', showlegend: false});
  traces.push({x: x, y: post.map((p, i) => p[1] - sem[i]), type: 'scatter', mode: 'lines',
               line: {width: 0, color: color}, fill: 'tonexty', fillcolor: color, hoverinfo: 'skip', showlegend: false});
}
addBand(redMeanPost, redSem, bandColors.red);
addBand(magMeanPost, magSem, bandColors.mag);
addBand(orgMeanPost, orgSem, bandColors.org);
addBand(grnMeanPost, grnSem, bandColors.grn);
addBand(bluMeanPost, bluSem, bandColors.blu);

function addMean(pre, post, color) {
  const x = MEAN_PRE_T.slice(), y = pre.slice();
  post.forEach(p => { x.push(p[0]); y.push(p[1]); });
  traces.push({x: x, y: y, type: 'scatter', mode: 'lines', line: {color: color, width: 11},
               hoverinfo: 'skip', showlegend: false});
}
addMean(redMeanPre, redMeanPost, flashColors[0]);
addMean(magMeanPre, magMeanPost, flashColors[1]);
addMean(orgMeanPre, orgMeanPost, flashColors[2]);
addMean(grnMeanPre, grnMeanPost, flashColors[3]);
addMean(bluMeanPre, bluMeanPost, flashColors[4]);

// target trajectory
traces.push({x: targetT, y: targetY, type: 'scatter', mode: 'lines',
             line: {color: '#000', width: 9, dash: '18px,18px'}, hoverinfo: 'skip', showlegend: false});

// plot-area geometry (pixels)
const W = 1985, H = 1448;
const M = {l: 330, r: 187, t: 0, b: 270};
const plotW = W - M.l - M.r, plotH = H - M.t - M.b;
const xRange = [-1733, 2486], yRange = [-12.15, 17.14];
const pxPerDeg = plotH / (yRange[1] - yRange[0]);

const shapes = [];
shapes.push({type: 'rect', layer: 'below', xref: 'x', yref: 'y', x0: flashWindow[0], x1: flashWindow[1],
             y0: yRange[0], y1: flashWindowTop, fillcolor: 'rgb(153,153,153)', line: {width: 0}});
shapes.push({type: 'line', layer: 'below', xref: 'x', yref: 'y', x0: 0, x1: 0, y0: fixLineTop, y1: fixLineBottom,
             line: {color: '#000', width: 12, dash: '54px,24px'}});
shapes.push({type: 'line', layer: 'below', xref: 'x', yref: 'y', x0: -1710, x1: xRange[1], y0: 0, y1: 0,
             line: {color: '#000', width: 11, dash: '62px,57px'}});
const iconSegs = [
  {x0: 0, y0: 36, x1: 0, y1: -36, w: 10},
  {x0: -58, y0: 0, x1: -25, y1: 0, w: 4}, {x0: 22, y0: 0, x1: 57, y1: 0, w: 4},
  {x0: -45, y0: 78, x1: -15, y1: 48, w: 4}, {x0: 15, y0: 48, x1: 44, y1: 78, w: 4},
  {x0: -45, y0: -76, x1: -15, y1: -47, w: 4}, {x0: 14, y0: -47, x1: 44, y1: -76, w: 4}
];
iconSegs.forEach(s => shapes.push({type: 'line', layer: 'above', xref: 'x', yref: 'y',
  xsizemode: 'pixel', ysizemode: 'pixel', xanchor: flashIconAt[0], yanchor: flashIconAt[1],
  x0: s.x0, x1: s.x1, y0: s.y0, y1: s.y1, line: {color: '#000', width: s.w}}));
const triTip = (1817 - M.l) / plotW, triBase = (1872 - M.l) / plotW, triHalf = 20 / pxPerDeg;
flashPositions.forEach((p, i) => shapes.push({type: 'path', xref: 'paper', yref: 'y', layer: 'above',
  path: `M ${triTip},${p} L ${triBase},${p + triHalf} L ${triBase},${p - triHalf} Z`,
  fillcolor: flashColors[i], line: {width: 0}}));

const FONT = 'Liberation Sans, Arial, sans-serif';
const annotations = [
  {text: 'Time rel. to flash [ms]', xref: 'paper', yref: 'paper', x: 0.5, y: -(1391 - plotH) / plotH,
   xanchor: 'center', yanchor: 'middle', showarrow: false, font: {family: FONT, size: 88, color: '#000'}},
  {text: 'Hor. Eye position [deg]', xref: 'paper', yref: 'paper', x: (48 - M.l) / plotW, y: 0.5,
   xanchor: 'center', yanchor: 'middle', textangle: -90, showarrow: false, font: {family: FONT, size: 88, color: '#000'}},
  {text: 'Hor. Flash positions', xref: 'paper', yref: 'paper', x: (1933 - M.l) / plotW, y: (plotH - 696) / plotH,
   xanchor: 'center', yanchor: 'middle', textangle: 90, showarrow: false, font: {family: FONT, size: 82, color: '#000'}}
];

const layout = {
  width: W, height: H, margin: M, autosize: false,
  paper_bgcolor: '#fff', plot_bgcolor: '#fff', showlegend: false,
  font: {family: FONT, color: '#000'},
  xaxis: {range: xRange, tickvals: xTickVals, ticktext: xTickText, ticks: 'inside', ticklen: 11, tickwidth: 10,
          tickcolor: '#000', showline: true, linewidth: 12, linecolor: '#000', mirror: false,
          showgrid: false, zeroline: false, tickfont: {family: FONT, size: 90, color: '#000'}, fixedrange: true},
  yaxis: {range: yRange, tickvals: yTickVals, ticktext: yTickText, ticks: 'inside', ticklen: 11, tickwidth: 10,
          tickcolor: '#000', showline: true, linewidth: 12, linecolor: '#000', mirror: 'ticks', ticklabelstandoff: 19,
          showgrid: false, zeroline: false, tickfont: {family: FONT, size: 90, color: '#000'}, fixedrange: true},
  shapes: shapes, annotations: annotations
};
Plotly.newPlot('chart', traces, layout, {staticPlot: true, displayModeBar: false});
</script>
</body>
</html>
